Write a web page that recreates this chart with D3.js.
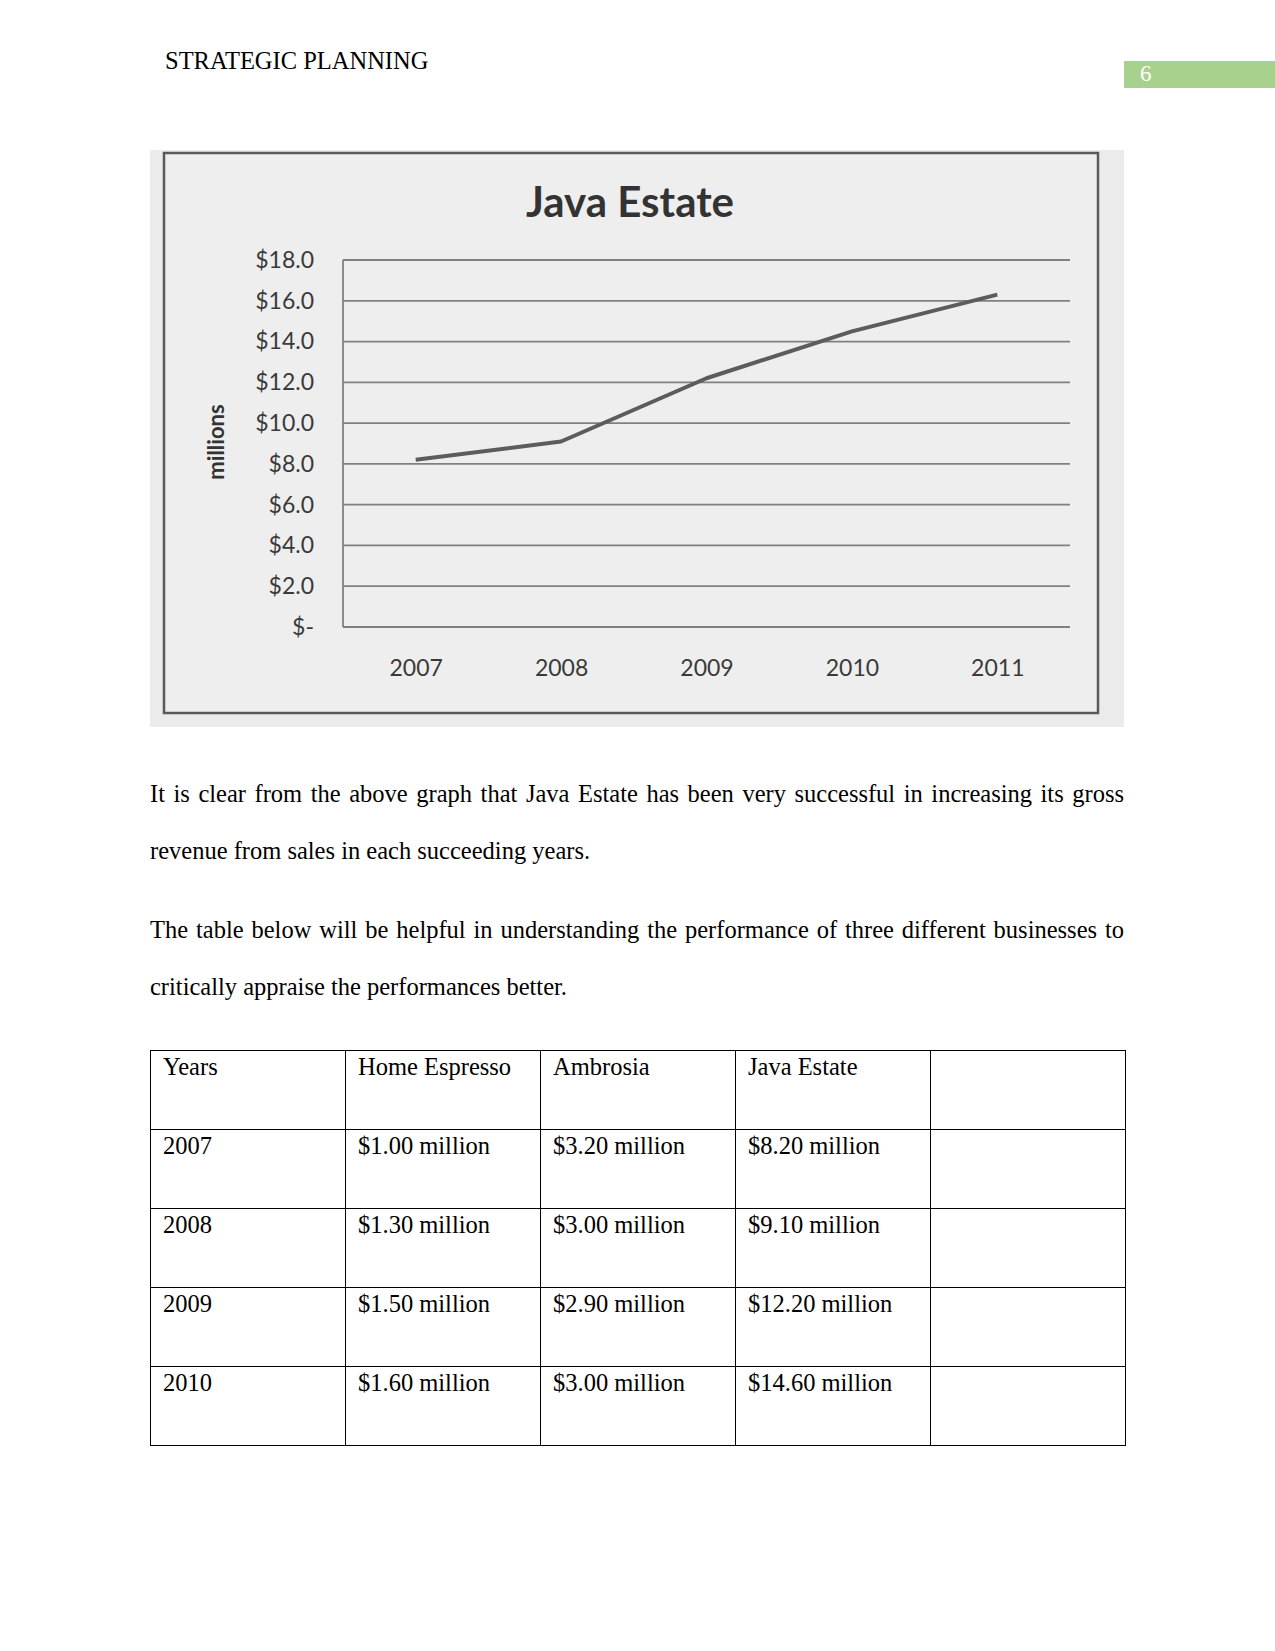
<!DOCTYPE html>
<html><head><meta charset="utf-8">
<script src="https://cdn.jsdelivr.net/npm/d3@7"></script>
<style>
body{margin:0;background:#fff;width:1275px;height:1651px;position:relative;overflow:hidden;}
.t{position:absolute;font-family:"Liberation Serif","Times New Roman",serif;font-size:24.5px;color:#000;}
.p{position:absolute;left:150px;width:974px;font-family:"Liberation Serif","Times New Roman",serif;font-size:24.5px;line-height:57px;text-align:justify;text-align-last:left;}
table{position:absolute;left:150px;top:1050px;border-collapse:collapse;font-family:"Liberation Serif",serif;font-size:24.5px;}
td{border:1.5px solid #000;width:195px;height:79px;vertical-align:top;padding:0 0 0 12px;box-sizing:border-box;line-height:28px;padding-top:2px;}
</style></head>
<body>
<div class="t" style="left:165px;top:47px;">STRATEGIC PLANNING</div>
<div style="position:absolute;left:1124px;top:61px;width:151px;height:27px;background:#a9d18e;"></div>
<div class="t" style="left:1140px;top:61px;color:#fff;font-size:23px;">6</div>
<svg id="chart" width="1275" height="740" style="position:absolute;left:0;top:0;"></svg>
<div class="p" style="top:765px;">It is clear from the above graph that Java Estate has been very successful in increasing its gross revenue from sales in each succeeding years.</div>
<div class="p" style="top:901px;">The table below will be helpful in understanding the performance of three different businesses to critically appraise the performances better.</div>
<table id="tbl"></table>
<script>
const years = ["2007","2008","2009","2010","2011"];
const revenue = [8.2, 9.1, 12.2, 14.5, 16.3];
const yTicks = [0,2,4,6,8,10,12,14,16,18];
const tableHeader = ["Years","Home Espresso","Ambrosia","Java Estate",""];
const tableYears = ["2007","2008","2009","2010"];
const homeEspresso = ["$1.00 million","$1.30 million","$1.50 million","$1.60 million"];
const ambrosia = ["$3.20 million","$3.00 million","$2.90 million","$3.00 million"];
const javaEstate = ["$8.20 million","$9.10 million","$12.20 million","$14.60 million"];

const svg = d3.select("#chart");
svg.append("rect").attr("x",150).attr("y",150).attr("width",974).attr("height",577).attr("fill","#ebebeb");
svg.append("rect").attr("x",164).attr("y",153).attr("width",934).attr("height",560)
  .attr("fill","#eeeeee").attr("stroke","#5a5a5a").attr("stroke-width",2.5);
svg.append("text").attr("x",630).attr("y",217).attr("text-anchor","middle")
  .attr("font-family","Lato, 'Open Sans', sans-serif").attr("font-weight","bold").attr("font-size",42)
  .attr("fill","#333").text("Java Estate");

const pLeft=343,pRight=1070,pTop=260,pBottom=627;
const x = d3.scalePoint().domain(years).range([pLeft,pRight]).padding(0.5);
const y = d3.scaleLinear().domain([0,18]).range([pBottom,pTop]);

const g = svg.append("g");
g.selectAll("line.grid").data(yTicks).join("line").attr("class","grid")
  .attr("x1",pLeft).attr("x2",pRight).attr("y1",d=>y(d)).attr("y2",d=>y(d))
  .attr("stroke","#808080").attr("stroke-width",1.8);
g.append("line").attr("x1",pLeft).attr("x2",pLeft).attr("y1",pTop).attr("y2",pBottom).attr("stroke","#808080").attr("stroke-width",1.8);

const yAxis = d3.axisLeft(y).tickValues(yTicks).tickSize(0).tickPadding(0)
  .tickFormat(d=> d===0 ? "$-" : "$"+d.toFixed(1));
const ya = svg.append("g").attr("transform",`translate(${pLeft-29},0)`).call(yAxis);
ya.select(".domain").remove();
ya.selectAll("text").attr("font-family","Lato, 'Open Sans', sans-serif").attr("font-size",23).attr("fill","#3a3a3a");

const xAxis = d3.axisBottom(x).tickSize(0).tickPadding(0);
const xa = svg.append("g").attr("transform",`translate(0,${pBottom+33})`).call(xAxis);
xa.select(".domain").remove();
xa.selectAll("text").attr("font-family","Lato, 'Open Sans', sans-serif").attr("font-size",23).attr("fill","#3a3a3a");

svg.append("text").attr("transform","translate(224,442) rotate(-90)").attr("text-anchor","middle")
  .attr("font-family","Lato, 'Open Sans', sans-serif").attr("font-weight","bold").attr("font-size",22)
  .attr("fill","#333").text("millions");

const line = d3.line().x((d,i)=>x(years[i])).y(d=>y(d));
svg.append("path").datum(revenue).attr("d",line).attr("fill","none")
  .attr("stroke","#5c5c5c").attr("stroke-width",4).attr("stroke-linejoin","round");

const rows = [tableHeader].concat(tableYears.map((yr,i)=>[yr,homeEspresso[i],ambrosia[i],javaEstate[i],""]));
const tb = d3.select("#tbl");
tb.selectAll("tr").data(rows).join("tr").selectAll("td").data(d=>d).join("td").text(d=>d);
</script>
</body></html>
